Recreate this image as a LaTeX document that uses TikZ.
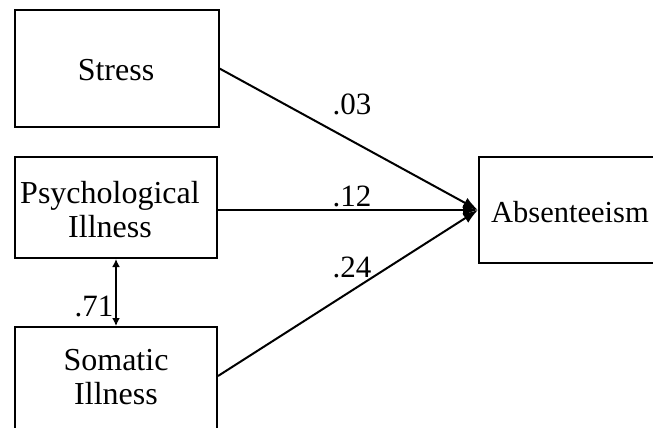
\documentclass[tikz,border=0pt]{standalone}
\usepackage{fontspec}
\setmainfont{Liberation Serif}
\usetikzlibrary{arrows.meta}
\begin{document}
\begin{tikzpicture}[x=1pt,y=-1pt,
  box/.style={draw,line width=2pt,rectangle,inner sep=0pt},
  boxtxt/.style={font=\fontsize{32}{34}\selectfont,align=center,inner sep=0pt},
  coef/.style={font=\fontsize{31}{32}\selectfont,inner sep=0pt},
  path/.style={line width=2pt,-{Latex[length=15pt,width=11pt]}},
  corr/.style={line width=2pt,{Latex[length=8pt,width=8pt]}-{Latex[length=8pt,width=8pt]}}]
\useasboundingbox (0,0) rectangle (653,428);
\clip (0,0) rectangle (653,428);
% boxes
\node[box,minimum width=204pt,minimum height=117pt] (stress) at (116.5,68.5) {};
\node[boxtxt] at (116,70) {Stress};
\node[box,minimum width=202pt,minimum height=101pt] (psych) at (116,207.5) {};
\node[boxtxt] at (110,210) {Psychological\\Illness};
\node[box,minimum width=202pt,minimum height=113pt] (som) at (116,383.5) {};
\node[boxtxt] at (116,377) {Somatic\\Illness};
\node[box,minimum width=200pt,minimum height=106pt] (abs) at (579,210) {};
\node[boxtxt,font=\fontsize{30.5}{34}\selectfont,anchor=west] at (491,212) {Absenteeism};
% paths
\draw[path] (stress.east) -- (abs.west);
\draw[path] ([yshift=-2.5pt]psych.east) -- (abs.west);
\draw[path] ([yshift=-50pt]som.north east) -- (abs.west);
\draw[corr] (psych.south) -- (som.north);
% coefficients
\node[coef] at (352,104) {.03};
\node[coef] at (352,196) {.12};
\node[coef] at (352,267) {.24};
\node[coef] at (94,306) {.71};
\end{tikzpicture}
\end{document}
